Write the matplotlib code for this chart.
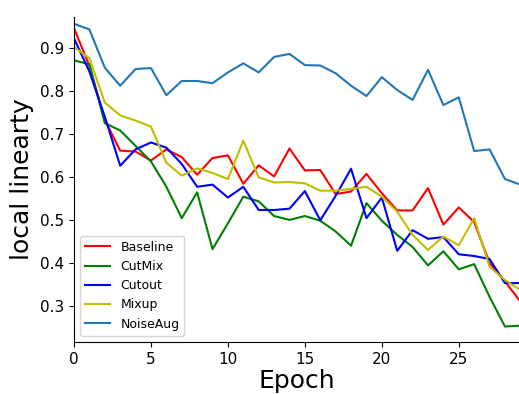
import numpy as np
import matplotlib
matplotlib.use("Agg")
import matplotlib.pyplot as plt

epochs = np.arange(30)

baseline = [0.946, 0.858, 0.733, 0.661, 0.659, 0.638, 0.664, 0.646, 0.605, 0.644,
            0.650, 0.584, 0.627, 0.601, 0.666, 0.615, 0.616, 0.560, 0.566, 0.607,
            0.562, 0.522, 0.522, 0.574, 0.489, 0.529, 0.495, 0.400, 0.357, 0.310]
cutmix = [0.871, 0.862, 0.725, 0.708, 0.672, 0.636, 0.577, 0.504, 0.564, 0.432,
          0.492, 0.554, 0.543, 0.509, 0.500, 0.509, 0.498, 0.473, 0.440, 0.539,
          0.498, 0.465, 0.437, 0.394, 0.427, 0.385, 0.397, 0.321, 0.252, 0.254]
cutout = [0.922, 0.845, 0.740, 0.626, 0.664, 0.680, 0.668, 0.630, 0.577, 0.582,
          0.552, 0.577, 0.523, 0.523, 0.526, 0.567, 0.499, 0.556, 0.619, 0.504,
          0.552, 0.428, 0.476, 0.456, 0.460, 0.420, 0.416, 0.409, 0.353, 0.353]
mixup = [0.902, 0.876, 0.773, 0.743, 0.731, 0.717, 0.633, 0.603, 0.620, 0.609,
         0.595, 0.684, 0.599, 0.587, 0.588, 0.585, 0.568, 0.568, 0.572, 0.577,
         0.554, 0.519, 0.465, 0.430, 0.461, 0.441, 0.504, 0.391, 0.360, 0.337]
noiseaug = [0.956, 0.943, 0.854, 0.812, 0.851, 0.853, 0.790, 0.823, 0.823, 0.818,
            0.843, 0.864, 0.843, 0.879, 0.886, 0.860, 0.859, 0.841, 0.812, 0.788,
            0.832, 0.802, 0.779, 0.849, 0.767, 0.785, 0.660, 0.664, 0.595, 0.582]

series = [("Baseline", baseline, "r"), ("CutMix", cutmix, "g"),
          ("Cutout", cutout, "b"), ("Mixup", mixup, "y"),
          ("NoiseAug", noiseaug, "tab:blue")]

fig = plt.figure(figsize=(5.19, 3.94), dpi=100)
ax = fig.add_axes([0.1426, 0.132, 0.86, 0.825])
for name, vals, c in series:
    ax.plot(epochs, vals, color=c, lw=1.5, label=name)

ax.set_xlim(0, 29)
ax.set_ylim(0.216, 0.972)
ax.set_xticks([0, 5, 10, 15, 20, 25])
ax.set_yticks([0.3, 0.4, 0.5, 0.6, 0.7, 0.8, 0.9])
ax.tick_params(labelsize=11)
ax.spines["top"].set_visible(False)
ax.spines["right"].set_visible(False)
ax.set_xlabel("Epoch", fontsize=18, labelpad=2)
ax.set_ylabel("local linearty", fontsize=18, labelpad=4)
ax.legend(loc="lower left", fontsize=9)

fig.savefig("out.png", dpi=100)
